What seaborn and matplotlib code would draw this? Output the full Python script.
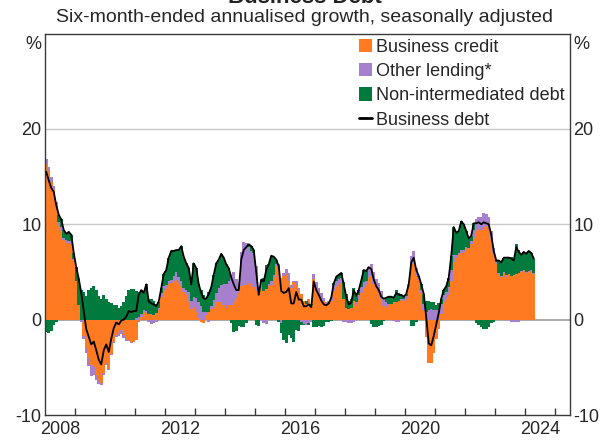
import numpy as np
import pandas as pd
import seaborn as sns
import matplotlib.pyplot as plt
from matplotlib.patches import Patch
from matplotlib.lines import Line2D

# monthly data, Jan 2008 to Apr 2024 (six-month-ended annualised growth, %)
credit = [
    16.3, 15.6, 14.4, 13.6, 11.8, 9.8, 9.3, 8.3, 8.0, 8.0, 7.9, 6.3,        # 2008
    4.0, 1.5, 0.0, -1.7, -3.0, -4.0, -4.8, -5.0, -5.8, -6.3, -6.6, -5.6,    # 2009
    -4.6, -5.2, -3.6, -2.3, -1.6, -1.4, -1.1, -1.6, -2.0, -2.1, -2.3, -2.3, # 2010
    -2.1, -0.3, 0.3, 0.8, 0.7, 0.6, 0.6, 0.5, 0.7, 1.0, 2.4, 3.0,         # 2011
    3.3, 3.7, 3.8, 4.1, 4.2, 3.8, 3.5, 2.9, 2.6, 1.9, 1.1, 1.3,           # 2012
    0.8, 0.2, -0.3, -0.4, 0.5, 0.8, 1.1, 1.3, 1.8, 1.8, 1.9, 1.5,         # 2013
    1.2, 1.5, 1.5, 1.8, 2.3, 2.8, 3.5, 3.6, 3.6, 3.8, 3.7, 3.4,           # 2014
    3.0, 2.8, 3.3, 3.0, 3.2, 3.5, 3.6, 4.4, 5.6, 5.4, 4.4, 4.6,           # 2015
    4.8, 4.1, 3.3, 3.9, 3.6, 3.1, 2.7, 2.0, 1.6, 2.2, 1.5, 4.3,           # 2016
    3.0, 2.6, 2.3, 2.0, 1.6, 1.7, 2.0, 3.0, 3.4, 3.6, 3.8, 2.2,           # 2017
    1.2, 1.1, 1.2, 2.0, 1.5, 2.1, 2.8, 3.3, 3.6, 4.4, 4.6, 3.7,           # 2018
    3.2, 2.9, 2.2, 1.4, 1.2, 1.5, 1.6, 1.8, 1.9, 2.0, 2.1, 2.0,           # 2019
    2.2, 3.3, 5.8, 6.0, 4.6, 4.2, 2.8, 1.0, -1.8, -4.5, -4.6, -3.5,       # 2020
    -2.0, -1.0, 0.6, 1.8, 2.2, 2.6, 4.0, 6.0, 6.5, 6.8, 7.0, 7.1,         # 2021
    7.5, 7.4, 7.9, 8.6, 9.3, 9.5, 9.4, 9.7, 9.8, 9.5, 8.5, 7.0,           # 2022
    5.8, 4.8, 4.5, 4.9, 4.5, 4.8, 4.6, 4.7, 4.8, 4.9, 5.0, 5.2,           # 2023
    4.9, 5.0, 5.1, 4.8,                                                   # 2024
]
other = [
    0.5, 0.4, 0.6, 0.4, 0.5, 0.4, 0.4, 0.3, 0.4, 0.2, 0.3, 0.1,
    0.0, 0.0, -0.3, -0.3, -0.5, -0.9, -1.1, -0.8, -0.5, -0.4, -0.3, -0.2,
    -0.2, -0.1, -0.1, -0.1, -0.2, -0.3, -0.4, -0.3, -0.2, -0.1, -0.1, 0.0,
    0.2, 0.3, 0.3, 0.2, 0.2, -0.3, -0.5, -0.4, -0.2, 0.2, 0.4, 0.5,
    0.3, 0.3, 0.4, 0.5, 0.8, 0.7, 0.5, 0.4, 0.5, 1.0, 0.9, 1.1,
    1.5, 1.6, 1.4, 0.8, 0.3, -0.2, 0.3, 0.8, 1.0, 1.5, 1.7, 2.2,
    2.5, 2.6, 3.3, 3.2, 2.0, 1.0, 3.6, 4.5, 4.4, 3.8, 3.5, 3.6,
    2.6, 0.5, 0.6, -0.4, -0.5, 0.2, 0.4, 0.3, 0.2, 0.4, -0.4, 0.3,
    0.5, 0.8, 0.3, 0.1, 0.4, 0.2, -0.3, -0.5, -0.6, -0.4, -0.3, 0.5,
    0.9, 0.7, 0.5, 0.3, 0.2, 0.3, 0.4, 0.6, 0.6, 0.7, 0.6, -0.2,
    -0.3, -0.4, -0.4, -0.2, 0.4, 0.5, 0.6, 0.6, 0.5, 0.9, 1.2, 1.3,
    1.1, 0.9, 0.8, 0.9, 0.6, 0.1, 0.0, -0.1, -0.3, -0.2, 0.1, 0.2,
    0.3, 0.4, 0.9, 1.2, 0.8, 0.3, 0.3, 0.6, 0.8, 1.0, 1.1, 1.0,
    1.0, 1.0, 1.0, 0.8, 0.7, 0.8, 1.2, 0.8, 0.3, 0.2, 0.3, 0.2,
    0.1, 0.1, 0.3, 0.8, 1.2, 1.3, 1.4, 1.5, 1.3, 1.3, 0.8, 0.5,
    0.2, 0.1, 0.1, 0.1, 0.2, 0.0, -0.2, -0.3, -0.3, -0.2, 0.1, 0.0,
    0.1, 0.1, 0.1, 0.1,
]
nonint = [
    -1.3, -1.4, -1.2, -0.6, -0.3, 0.8, 0.8, 0.8, 0.6, 1.0, 0.7, 0.6,
    1.5, 2.8, 3.1, 2.9, 2.5, 3.1, 3.3, 3.5, 3.1, 2.5, 2.2, 2.6,
    2.2, 1.9, 1.7, 1.5, 1.5, 1.2, 1.4, 1.9, 2.5, 3.1, 3.2, 3.2,
    2.8, 2.6, 2.5, 1.8, 2.8, 1.6, 1.6, 1.5, 0.9, 0.7, 0.5, 1.3,
    1.6, 2.5, 3.0, 2.6, 2.3, 2.8, 3.7, 3.3, 2.8, 2.5, 1.7, 3.5,
    3.1, 1.9, 1.7, 1.8, 1.4, 2.1, 2.0, 2.6, 3.1, 3.0, 3.3, 2.8,
    2.1, 1.3, -0.4, -1.3, -1.2, -0.7, -0.8, -0.8, -0.4, 0.3, 0.5, 0.3,
    -0.6, -0.7, 0.3, 1.4, 2.5, 2.1, 2.7, 1.9, 0.5, -0.2, -1.0, -2.1,
    -2.4, -1.6, -1.9, -2.3, -1.1, -1.2, -0.3, -0.1, 0.4, -0.2, 0.1, -0.8,
    -0.8, -0.7, -0.8, -0.7, -0.3, -0.3, -0.1, 0.2, 0.5, 0.4, 0.5, 1.7,
    1.5, 0.9, 1.0, 1.3, 0.6, 0.5, 0.7, 1.3, 1.0, 0.2, -0.5, -0.8,
    -0.8, -0.7, -0.6, -0.1, 0.5, 0.8, 0.8, 0.6, 1.2, 0.8, 0.4, 0.2,
    0.2, 0.0, -0.7, -0.7, -0.2, 0.1, 0.6, 1.1, 1.2, 1.0, 0.8, 0.8,
    0.5, 0.7, 0.6, 0.5, 0.6, 1.0, 1.5, 2.9, 2.3, 2.3, 3.0, 2.7,
    1.7, 1.0, 0.6, 0.7, -0.4, -0.6, -0.8, -1.0, -1.0, -0.8, -0.4, -0.3,
    0.2, 1.3, 1.4, 1.5, 1.8, 1.7, 2.0, 1.8, 3.1, 2.4, 1.7, 1.9,
    1.9, 2.1, 1.8, 1.5,
]
debt = [
    15.5, 14.6, 13.8, 13.4, 12.0, 11.0, 10.5, 9.4, 9.0, 9.2, 8.9, 7.0,
    5.5, 4.3, 2.8, 0.9, -1.0, -1.8, -2.6, -2.3, -3.2, -4.2, -4.7, -3.2,
    -2.6, -3.4, -2.0, -0.9, -0.3, -0.5, -0.1, 0.0, 0.3, 0.9, 0.8, 0.9,
    0.9, 2.6, 3.1, 2.8, 3.7, 1.9, 1.7, 1.6, 1.4, 1.9, 3.3, 4.8,
    5.2, 6.5, 7.2, 7.2, 7.3, 7.3, 7.7, 6.6, 5.9, 5.4, 3.7, 5.9,
    5.4, 3.7, 2.8, 2.2, 2.2, 2.7, 3.4, 4.7, 5.9, 6.3, 6.9, 6.5,
    5.8, 5.4, 4.4, 3.7, 3.1, 3.1, 6.3, 7.3, 7.6, 7.9, 7.7, 7.3,
    5.0, 2.6, 4.2, 4.0, 5.2, 5.8, 6.7, 6.6, 6.3, 5.6, 3.0, 2.8,
    2.9, 3.3, 1.7, 1.7, 2.9, 2.1, 2.1, 1.4, 1.4, 1.6, 1.3, 4.0,
    3.1, 2.6, 2.0, 1.6, 1.5, 1.7, 2.3, 3.8, 4.5, 4.7, 4.9, 3.7,
    2.4, 1.6, 1.8, 3.1, 2.5, 3.1, 4.1, 5.2, 5.1, 5.5, 5.3, 4.2,
    3.5, 3.1, 2.4, 2.2, 2.3, 2.4, 2.4, 2.3, 2.8, 2.6, 2.6, 2.4,
    2.7, 3.7, 6.0, 6.5, 5.2, 4.6, 3.7, 2.7, 0.2, -2.5, -2.7, -1.7,
    -0.5, 0.7, 2.2, 3.1, 3.5, 4.4, 6.7, 9.7, 9.1, 9.3, 10.3, 10.0,
    9.3, 8.5, 8.8, 10.1, 10.1, 10.2, 10.0, 10.2, 10.1, 10.0, 8.9, 7.2,
    6.2, 6.2, 6.0, 6.5, 6.5, 6.5, 6.4, 6.2, 7.6, 7.1, 6.8, 7.1,
    6.9, 7.2, 7.0, 6.4,
]

labels = ['Business credit', 'Other lending*', 'Non-intermediated debt']
colours = ['#FF7A21', '#A680CC', '#007A3D']

n = len(debt)
xs = 2008 + (np.arange(n) + 0.5) / 12
df = pd.DataFrame({'date': xs, 'credit': credit, 'other': other,
                   'nonint': nonint, 'debt': debt})

sns.set_theme(style='white')
plt.rcParams['font.family'] = ['Liberation Sans', 'DejaVu Sans']

fig = plt.figure(figsize=(6.1, 4.42), dpi=100)
ax = fig.add_axes([45/610, 1 - 415/442, 525/610, 381.5/442])

# grid lines
for g in [10, 20]:
    ax.axhline(g, color='#c8c8c8', lw=1, zorder=0)
ax.axhline(0, color='#9a9a9a', lw=1.2, zorder=0.5)

# stacked bars: positives up from zero, negatives down from zero
pos_base = np.zeros(n)
neg_base = np.zeros(n)
w = 1/12 + 0.002
for col, c in zip(['credit', 'other', 'nonint'], colours):
    v = df[col].to_numpy()
    pos = np.where(v > 0, v, 0)
    neg = np.where(v < 0, v, 0)
    ax.bar(df['date'], pos, width=w, bottom=pos_base, color=c, linewidth=0, zorder=1)
    ax.bar(df['date'], neg, width=w, bottom=neg_base, color=c, linewidth=0, zorder=1)
    pos_base += pos
    neg_base += neg

sns.lineplot(data=df, x='date', y='debt', color='black', linewidth=1.3, ax=ax, zorder=3)

ax.set_xlim(2008, 2025.5)
ax.set_ylim(-10, 30)
ax.set_xlabel('')
ax.set_ylabel('')

ax.set_yticks([-10, 0, 10, 20])
ax.set_yticklabels(['-10', '0', '10', '20'])
ax.tick_params(axis='y', length=0, labelleft=True, labelright=True, pad=2.5, labelsize=13)
ax.annotate('%', xy=(0, 1), xycoords='axes fraction', xytext=(-2.5, -1.5),
            textcoords='offset points', ha='right', va='top', fontsize=13)
ax.annotate('%', xy=(1, 1), xycoords='axes fraction', xytext=(2.5, -1.5),
            textcoords='offset points', ha='left', va='top', fontsize=13)

ax.set_xticks([2008.5, 2012.5, 2016.5, 2020.5, 2024.5])
ax.set_xticklabels(['2008', '2012', '2016', '2020', '2024'])
ax.set_xticks(np.arange(2009, 2026), minor=True)
ax.tick_params(axis='x', which='major', length=0, pad=4, labelsize=13)
ax.tick_params(axis='x', which='minor', length=5, width=1, direction='in',
               color='#3a3a3a', bottom=True)

for s in ax.spines.values():
    s.set_visible(True)
    s.set_color('#3a3a3a')
    s.set_linewidth(1)

handles = [Patch(facecolor=c, edgecolor='none') for c in colours]
handles.append(Line2D([0], [0], color='black', lw=2))
ax.legend(handles, labels + ['Business debt'], loc='upper right', frameon=False,
          fontsize=13, handlelength=0.75, handleheight=0.75, handletextpad=0.2,
          labelspacing=0.4, borderaxespad=0.1, borderpad=0.2)

fig.text(0.5, 1 - 3/442, 'Business Debt', ha='center', va='baseline',
         fontsize=16, fontweight='bold', color='#222222')
fig.text(0.5, 1 - 18/442, 'Six-month-ended annualised growth, seasonally adjusted',
         ha='center', va='center', fontsize=14)

fig.savefig('out.png', dpi=100)
